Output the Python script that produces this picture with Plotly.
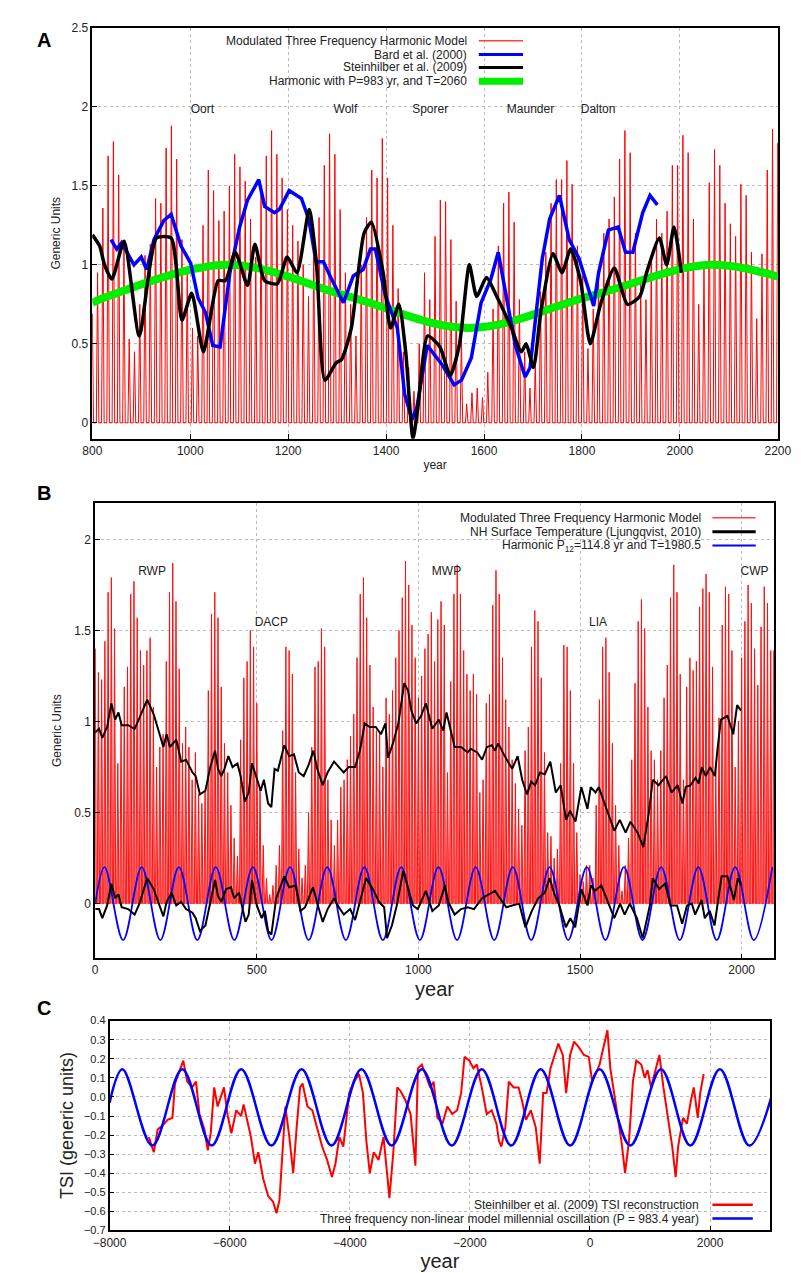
import plotly.graph_objects as go

W, H = 804, 1273
def px(x): return x / W
def py(y): return 1 - y / H

# ---------------- Panel A data ----------------
a_spike_start, a_spike_end = 800, 2200
a_spike_heights = [0.69,0.95,1.36,1.69,1.78,1.57,1.10,0.53,0.45,0.75,1.06,1.13,1.42,1.39,1.74,1.88,1.67,1.16,0.95,0.60,
    0.55,1.25,1.60,1.47,1.28,1.34,1.50,1.70,1.62,1.53,1.29,1.05,1.45,1.69,1.85,1.70,1.55,1.35,1.25,1.15,
    1.00,0.80,1.15,1.30,1.63,1.83,1.70,1.35,0.95,0.75,0.55,1.00,1.30,1.60,1.55,1.80,1.55,1.25,0.85,0.45,
    0.35,0.20,0.50,0.95,
    0.78,1.18,1.41,1.40,1.16,0.77,0.55,0.12,0.19,0.22,0.16,0.32,0.72,1.12,1.39,1.46,1.27,0.78,0.45,0.22,
    0.37,0.83,1.08,1.39,1.54,1.54,1.66,1.51,1.12,0.93,0.47,0.72,0.97,1.20,1.29,1.43,1.67,1.85,1.71,1.20,
    0.91,0.78,1.04,1.29,1.20,1.34,1.63,1.63,1.82,1.71,1.29,0.75,1.02,1.52,1.73,1.63,1.39,1.26,1.18,1.51,
    1.44,1.08,0.66,1.07,1.60,1.86,1.77]

a_black_year = [800,815,825,840,865,896,931,961,983,1003,1027,1057,1072,1092,1117,1132,1152,1178,1198,1218,1243,1258,1275,
    1298,1309,1329,1355,1370,1394,1409,1426,1440,1455,1465,1485,1510,1531,1550,1570,1585,1605,1626,1656,1676,1686,1701,
    1716,1741,1759,1777,1797,1817,1838,1866,1893,1918,1933,1958,1973,1988,2003]
a_black_val = [1.19,1.12,1.00,0.91,1.15,0.55,1.17,1.17,0.65,0.82,0.45,0.90,0.90,1.08,0.87,1.13,0.90,0.88,1.05,0.95,1.35,1.00,0.27,
    0.38,0.40,0.60,1.20,1.27,0.95,0.60,0.75,0.45,-0.10,0.10,0.55,0.48,0.30,0.50,1.00,0.80,0.92,0.80,0.60,0.45,0.50,0.35,
    0.70,1.07,0.95,1.10,0.90,0.50,0.75,0.98,0.75,0.80,0.96,1.17,1.00,1.24,0.95]

a_blue_year = [838,850,860,875,885,900,911,926,946,961,981,1001,1016,1031,1046,1061,1081,1101,1117,1140,1152,1172,1182,1202,
    1227,1242,1257,1272,1287,1313,1333,1353,1368,1378,1398,1423,1438,1453,1463,1484,1514,1539,1554,1574,1594,1614,1629,
    1649,1664,1684,1694,1719,1734,1754,1774,1794,1824,1834,1854,1874,1889,1904,1924,1939,1954]
a_blue_val = [1.16,1.10,1.14,1.05,1.00,1.05,0.97,1.16,1.28,1.32,1.12,1.01,0.79,0.70,0.49,0.48,0.95,1.24,1.41,1.54,1.37,1.33,1.35,1.47,
    1.42,1.29,1.02,1.02,0.92,0.76,0.93,0.97,1.10,1.10,0.81,0.60,0.18,0.02,0.10,0.49,0.37,0.24,0.27,0.41,0.76,0.91,1.08,
    0.74,0.49,0.29,0.35,1.04,1.29,1.44,1.16,1.04,0.74,0.95,1.22,1.24,1.08,1.08,1.33,1.44,1.38]

a_green_year = [800,831,1077,1323,1569,1814,2060,2200]
a_green_val = [0.76,0.80,1.00,0.80,0.60,0.80,1.00,0.925]

a_labels = ["Oort","Wolf","Sporer","Maunder","Dalton"]
a_label_year = [1025,1317,1490,1695,1833]

# ---------------- Panel B data ----------------
b_spike_start, b_spike_step = 0, 10
b_spike_heights = [1.40,1.27,1.23,1.44,1.71,1.79,1.51,0.77,1.00,1.19,
    1.30,1.70,1.77,1.57,1.39,1.31,1.39,1.46,1.08,0.75,
    0.86,0.93,1.33,1.71,1.87,1.66,1.29,0.88,0.97,0.86,
    0.68,0.83,0.60,0.55,0.62,1.17,1.59,1.71,1.57,1.19,
    0.88,0.72,0.54,0.36,0.26,0.90,1.24,1.33,1.50,1.41,
    1.10,0.64,0.32,0.14,0.05,0.10,0.21,0.32,0.95,1.41,
    1.39,1.26,0.72,0.30,0.14,0.21,0.50,0.86,1.30,1.33,
    1.51,1.41,0.68,0.46,0.32,0.46,0.64,0.68,0.79,0.92,
    1.04,1.35,1.70,1.79,1.57,1.31,1.08,0.95,0.93,0.75,
    1.13,1.04,1.17,1.35,1.50,1.68,1.88,1.75,1.53,1.35,
    1.13,1.25,1.40,1.48,1.60,1.33,1.56,1.66,1.53,0.72,
    1.22,1.70,1.86,1.70,1.39,1.26,1.17,1.26,1.15,0.61,
    0.68,1.10,1.15,1.64,1.83,1.70,1.35,1.12,0.97,0.79,
    0.66,0.52,0.43,0.84,0.97,1.41,1.61,1.55,1.24,0.83,
    0.39,0.37,0.25,0.30,0.77,1.42,1.41,1.17,0.77,0.39,
    0.16,0.12,0.21,0.21,0.14,0.54,1.12,1.41,1.46,1.27,
    0.88,0.54,0.32,0.07,0.21,0.36,0.79,1.21,1.55,1.67,
    1.51,1.08,0.84,0.79,0.68,0.84,1.13,1.31,1.68,1.86,
    1.71,1.26,0.68,1.19,1.35,1.28,1.33,1.63,1.73,1.81,
    1.71,1.30,0.75,1.02,1.53,1.74,1.70,1.39,0.75,1.00,
    1.35,1.55,1.75,1.65,1.40,1.20,1.52,1.74,1.65,1.39,1.39]

b_temp_year = [0,12,22,37,50,62,72,82,102,122,137,161,181,198,211,221,231,251,266,281,301,311,324,341,356,371,380,390,400,412,
    425,440,450,463,475,485,500,512,522,535,545,555,565,585,600,615,630,645,660,675,687,704,719,739,754,769,784,804,819,834,
    849,868,884,898,906,923,938,956,968,978,993,1008,1023,1043,1063,1077,1087,1112,1132,1152,1162,1182,1197,1212,1227,1237,
    1247,1267,1290,1307,1321,1336,1349,1361,1376,1391,1408,1425,1440,1457,1469,1486,1504,1523,1533,1548,1558,1583,1606,1623,
    1641,1656,1678,1696,1713,1725,1743,1766,1783,1802,1817,1827,1842,1857,1867,1877,1889,1902,1917,1926,1936,1956,1974,1986,1998]
b_temp_val = [0.94,0.96,0.91,0.97,1.10,1.01,1.05,0.98,0.98,0.96,1.02,1.12,1.04,0.94,0.86,0.93,0.86,0.90,0.78,0.79,0.72,0.70,0.60,0.62,
    0.75,0.84,0.74,0.70,0.74,0.81,0.75,0.77,0.70,0.56,0.61,0.77,0.68,0.62,0.68,0.55,0.53,0.74,0.73,0.87,0.81,0.82,0.72,0.70,
    0.76,0.84,0.74,0.65,0.72,0.78,0.75,0.72,0.75,0.75,0.84,0.99,0.97,0.97,0.93,0.99,0.80,0.89,0.99,1.21,1.17,1.06,0.99,1.03,
    1.10,0.96,1.01,0.95,1.05,0.86,0.86,0.83,0.85,0.83,0.79,0.86,0.87,0.84,0.88,0.81,0.74,0.81,0.68,0.60,0.67,0.65,0.72,0.71,
    0.78,0.61,0.65,0.46,0.51,0.45,0.64,0.52,0.64,0.61,0.64,0.51,0.40,0.46,0.39,0.45,0.39,0.31,0.50,0.68,0.65,0.70,0.61,0.65,
    0.55,0.64,0.65,0.69,0.66,0.75,0.70,0.75,0.70,0.86,1.01,1.03,0.93,1.09,1.06]

b_detr_year = [0,12,22,37,50,62,72,82,102,122,137,161,181,198,211,221,236,251,266,281,301,311,324,341,356,371,380,390,405,420,
    430,445,455,465,475,485,500,515,525,535,545,560,585,600,620,635,649,674,689,704,719,739,754,769,789,804,819,838,859,878,
    894,903,918,933,953,968,983,998,1023,1043,1063,1082,1092,1112,1132,1152,1172,1197,1217,1237,1252,1272,1290,1312,1331,
    1351,1371,1391,1406,1421,1436,1456,1470,1485,1504,1523,1534,1546,1566,1590,1606,1624,1638,1654,1676,1694,1716,1725,1745,
    1763,1780,1800,1816,1831,1846,1856,1876,1886,1901,1916,1938,1956,1976,1988,1998]
b_detr_val = [-0.03,-0.03,-0.08,-0.01,0.11,0.03,0.05,-0.02,-0.03,-0.06,0.00,0.14,0.08,-0.01,-0.07,0.01,0.06,-0.01,0.01,-0.03,-0.05,
    -0.08,-0.15,-0.12,0.01,0.13,0.04,0.01,0.08,0.09,0.03,0.06,-0.02,-0.10,-0.06,0.13,-0.01,-0.08,-0.04,-0.15,-0.17,0.03,0.15,0.09,
    0.10,-0.04,-0.02,0.09,-0.01,-0.10,-0.03,0.03,-0.02,-0.06,-0.03,-0.09,0.01,0.14,0.08,0.01,-0.02,-0.19,-0.12,-0.01,0.18,0.08,
    -0.01,-0.03,0.07,-0.04,-0.01,0.10,0.01,-0.06,-0.03,-0.02,-0.03,0.03,0.05,0.07,0.03,-0.02,-0.01,0.00,-0.13,-0.04,0.03,0.06,
    0.14,0.05,-0.01,-0.13,-0.08,-0.13,0.08,-0.01,0.10,0.07,0.10,-0.01,-0.08,0.00,-0.06,0.00,-0.08,-0.19,-0.01,0.14,0.08,0.11,
    -0.01,-0.01,-0.11,-0.01,0.00,-0.06,0.02,-0.08,-0.04,-0.12,0.15,0.15,0.02,0.14,0.10]

b_harm_peak_year = [29,144,259,373,488,603,718,833,947,1062,1177,1292,1406,1521,1636,1751,1866,1980,2095]
b_harm_amp = 0.2
b_labels = ["RWP","DACP","MWP","LIA","CWP"]
b_label_year = [176,545,1087,1556,2040]
b_label_val = [1.82,1.54,1.82,1.54,1.82]

# ---------------- Panel C data ----------------
c_red_year = [-7346,-7264,-7199,-7117,-7035,-6953,-6912,-6830,-6773,-6708,-6626,-6561,-6504,-6422,-6365,-6316,-6258,-6201,-6152,
    -6095,-6038,-5972,-5891,-5809,-5768,-5711,-5646,-5580,-5523,-5441,-5359,-5277,-5220,-5171,-5114,-5073,-5007,-4942,-4885,
    -4828,-4787,-4705,-4624,-4542,-4460,-4378,-4297,-4239,-4174,-4108,-4010,-3928,-3847,-3781,-3724,-3667,-3601,-3520,-3438,
    -3373,-3340,-3275,-3209,-3152,-3070,-2988,-2907,-2866,-2800,-2743,-2661,-2604,-2539,-2457,-2375,-2294,-2212,-2146,-2089,
    -2007,-1942,-1885,-1802,-1720,-1638,-1557,-1516,-1475,-1410,-1352,-1271,-1189,-1132,-1066,-984,-903,-837,-780,-723,-657,
    -592,-527,-453,-396,-331,-265,-184,-102,-20,37,94,160,225,290,339,388,446,527,584,650,715,772,854,911,960,1017,1099,1156,
    1223,1288,1370,1427,1468,1549,1615,1680,1729,1795,1836,1893]
c_red_val = [-0.21,-0.29,-0.17,-0.15,-0.12,-0.11,0.07,0.14,0.19,0.08,0.05,0.08,-0.09,-0.17,-0.28,-0.19,0.05,-0.05,0.00,0.05,-0.09,
    -0.19,-0.07,-0.10,-0.04,-0.12,-0.21,-0.35,-0.29,-0.43,-0.52,-0.55,-0.61,-0.54,-0.24,-0.05,-0.21,-0.40,-0.16,0.05,0.07,-0.05,
    -0.07,-0.16,-0.26,-0.33,-0.42,-0.35,-0.21,-0.26,0.02,0.08,0.12,0.02,-0.23,-0.40,-0.29,-0.33,-0.21,-0.42,-0.53,-0.29,0.05,
    0.03,-0.02,-0.09,-0.36,0.15,0.17,0.12,0.05,0.08,-0.11,-0.14,-0.05,-0.09,-0.07,0.02,0.21,0.19,0.15,0.17,0.05,-0.09,-0.07,
    -0.14,-0.23,-0.26,-0.16,0.08,0.05,0.05,-0.02,-0.12,-0.07,-0.16,-0.35,0.02,0.02,0.15,0.22,0.28,0.22,0.02,0.22,0.29,0.26,
    0.22,0.21,0.08,0.12,0.17,0.26,0.35,0.15,0.05,-0.05,-0.24,-0.40,-0.23,0.08,0.19,0.17,0.10,0.14,0.05,0.15,0.22,0.05,-0.09,
    -0.26,-0.42,-0.26,-0.11,-0.14,-0.02,0.05,-0.11,0.02,0.12]

c_harm_peak_year = [-7787,-6790,-5809,-4803,-3806,-2800,-1802,-821,160,1182,2163,3146]
c_harm_max, c_harm_min = 0.145, -0.255
c_harm_start_val = -0.03

# ---------------- build helper series ----------------
def spikes(start, step, heights, halfw):
    xs, ys = [], []
    for i, h in enumerate(heights):
        t = start + i * step
        xs += [t - halfw, t, t + halfw]
        ys += [0, h, 0]
    return xs, ys

def harmonic_nodes(peaks, vmax, vmin, x0, v0):
    xs, ys = [x0], [v0]
    for i, p in enumerate(peaks):
        xs.append(p); ys.append(vmax)
        if i + 1 < len(peaks):
            xs.append((p + peaks[i + 1]) / 2); ys.append(vmin)
    return xs, ys

fig = go.Figure()

# Panel A
a_step = (a_spike_end - a_spike_start) / (len(a_spike_heights) - 1)
ax_, ay_ = spikes(a_spike_start, a_step, a_spike_heights, 2.6)
fig.add_trace(go.Scatter(x=ax_, y=ay_, mode="lines", line=dict(color="#ff0000", width=1), xaxis="x", yaxis="y", showlegend=False))
fig.add_trace(go.Scatter(x=a_green_year, y=a_green_val, mode="lines", line=dict(color="#00ee00", width=8, shape="spline", smoothing=1.0), xaxis="x", yaxis="y", showlegend=False))
fig.add_trace(go.Scatter(x=a_blue_year, y=a_blue_val, mode="lines", line=dict(color="#0000ff", width=3.5), xaxis="x", yaxis="y", showlegend=False))
fig.add_trace(go.Scatter(x=a_black_year, y=a_black_val, mode="lines", line=dict(color="#000000", width=3.5, shape="spline", smoothing=0.6), xaxis="x", yaxis="y", showlegend=False))
fig.add_trace(go.Scatter(x=a_label_year, y=[1.98]*len(a_labels), mode="text", text=a_labels, textfont=dict(size=12, color="#222"), xaxis="x", yaxis="y", showlegend=False))

# Panel B
bx_, by_ = spikes(b_spike_start, b_spike_step, b_spike_heights, 3.6)
fig.add_trace(go.Scatter(x=bx_, y=by_, mode="lines", fill="tozeroy", fillcolor="rgba(255,0,0,0.55)", line=dict(color="#ff1010", width=1), xaxis="x2", yaxis="y2", showlegend=False))
hx, hy = harmonic_nodes(b_harm_peak_year, b_harm_amp, -b_harm_amp, 0, 0.0)
fig.add_trace(go.Scatter(x=hx, y=hy, mode="lines", line=dict(color="#0000ff", width=1.8, shape="spline", smoothing=1.0), xaxis="x2", yaxis="y2", showlegend=False))
fig.add_trace(go.Scatter(x=b_temp_year, y=b_temp_val, mode="lines", line=dict(color="#000000", width=2), xaxis="x2", yaxis="y2", showlegend=False))
fig.add_trace(go.Scatter(x=b_detr_year, y=b_detr_val, mode="lines", line=dict(color="#000000", width=2), xaxis="x2", yaxis="y2", showlegend=False))
fig.add_trace(go.Scatter(x=b_label_year, y=b_label_val, mode="text", text=b_labels, textfont=dict(size=12, color="#222"), xaxis="x2", yaxis="y2", showlegend=False))

# Panel C
cx, cy = harmonic_nodes(c_harm_peak_year, c_harm_max, c_harm_min, -8000, c_harm_start_val)
fig.add_trace(go.Scatter(x=c_red_year, y=c_red_val, mode="lines", line=dict(color="#ff0000", width=2), xaxis="x3", yaxis="y3", showlegend=False))
fig.add_trace(go.Scatter(x=cx, y=cy, mode="lines", line=dict(color="#0000ff", width=2.5, shape="spline", smoothing=1.0), xaxis="x3", yaxis="y3", showlegend=False))

grid = dict(showgrid=True, gridcolor="#bbbbbb", griddash="dot", gridwidth=1, zeroline=False,
            showline=True, linecolor="#000", linewidth=1.5, mirror=True, ticks="inside", ticklen=5, tickcolor="#000")
FONT = "Liberation Sans"
fig.update_layout(
    width=W, height=H, margin=dict(l=0, r=0, t=0, b=0), plot_bgcolor="white", paper_bgcolor="white",
    font=dict(family=FONT, size=12, color="#222"),
    xaxis=dict(domain=[px(70), px(783)], range=[800, 2200], dtick=200, anchor="y", tickfont=dict(size=12),
               title=dict(text="year", font=dict(size=12), standoff=4), **grid),
    yaxis=dict(domain=[py(428), py(13)], range=[-0.1, 2.5], dtick=0.5, anchor="x", tickfont=dict(size=12),
               title=dict(text="Generic Units", font=dict(size=12), standoff=8), **grid),
    xaxis2=dict(domain=[px(73), px(779)], range=[0, 2100], dtick=500, anchor="y2", tickfont=dict(size=12),
                title=dict(text="year", font=dict(size=20), standoff=6), **grid),
    yaxis2=dict(domain=[py(953), py(493)], range=[-0.3, 2.2], tickvals=[0, 0.5, 1, 1.5, 2], anchor="x2", tickfont=dict(size=12),
                title=dict(text="Generic Units", font=dict(size=12), standoff=10), **grid),
    xaxis3=dict(domain=[px(88), px(775)], range=[-8000, 3000], tickvals=[-8000, -6000, -4000, -2000, 0, 2000], anchor="y3",
                tickfont=dict(size=12), title=dict(text="year", font=dict(size=20), standoff=2), **grid),
    yaxis3=dict(domain=[py(1228), py(1016)], range=[-0.7, 0.4], dtick=0.1, tickformat=".1f", anchor="x3", tickfont=dict(size=11),
                title=dict(text="TSI (generic units)", font=dict(size=18), standoff=6), **grid),
)

annots, shapes = [], []
def legend_row(text, ytop, xr, x0, x1, color, width):
    annots.append(dict(text=text, x=px(xr), y=py(ytop), xref="paper", yref="paper", xanchor="right", yanchor="middle",
                       showarrow=False, font=dict(size=12, color="#222", family=FONT)))
    shapes.append(dict(type="line", xref="paper", yref="paper", x0=px(x0), x1=px(x1), y0=py(ytop), y1=py(ytop),
                       line=dict(color=color, width=width)))

legend_row("Modulated Three Frequency Harmonic Model", 26, 462, 472, 518, "#ff4040", 1.5)
legend_row("Bard et al. (2000)", 40, 462, 472, 518, "#0000ff", 3)
legend_row("Steinhilber et al. (2009)", 53, 462, 472, 518, "#000000", 3)
legend_row("Harmonic with P=983 yr, and T=2060", 67, 462, 472, 518, "#00ee00", 7)
legend_row("Modulated Three Frequency Harmonic Model", 508, 705, 715, 760, "#ff4040", 1.5)
legend_row("NH Surface Temperature (Ljungqvist, 2010)", 522, 705, 715, 760, "#000000", 3)
legend_row("Harmonic P<sub>12</sub>=114.8 yr and T=1980.5", 536, 705, 715, 760, "#0000ff", 2)
legend_row("Steinhilber et al. (2009) TSI reconstruction", 1202, 703, 715, 757, "#ff0000", 2.5)
legend_row("Three frequency non-linear model millennial oscillation (P = 983.4 year)", 1216, 703, 715, 757, "#0000ff", 2.5)

for letter, y in [("A", 25), ("B", 483), ("C", 1003)]:
    annots.append(dict(text="<b>%s</b>" % letter, x=px(10), y=py(y), xref="paper", yref="paper", xanchor="left",
                       yanchor="middle", showarrow=False, font=dict(size=20, color="#000", family=FONT)))

fig.update_layout(annotations=annots, shapes=shapes)
fig.write_html("out.html")
